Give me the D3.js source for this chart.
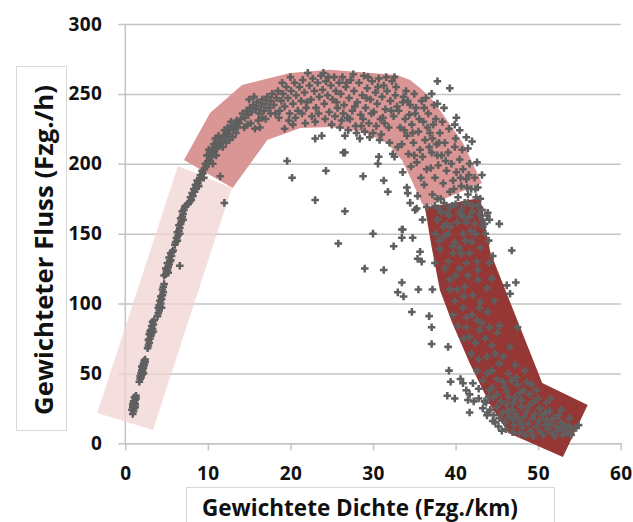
<!DOCTYPE html>
<html>
<head>
<meta charset="utf-8">
<script src="https://cdn.jsdelivr.net/npm/d3@7"></script>
<style>
  body { margin: 0; background: #fff; }
  svg { display: block; }
</style>
</head>
<body>
<svg id="chart" width="633" height="522"></svg>
<script>
// Achsen
const xTicks = [0, 10, 20, 30, 40, 50, 60];
const yTicks = [0, 50, 100, 150, 200, 250, 300];
const xTitle = "Gewichtete Dichte (Fzg./km)";
const yTitle = "Gewichteter Fluss (Fzg./h)";

// Hinterlegte Bereiche (Dichte, Fluss)
const bandFree = [[-3.4, 21.7], [3.35, 9.5], [12.9, 182.6], [6.38, 198.4]];
const bandArch = [[7.11, 202.7], [10.26, 236.3], [14.13, 256.4], [19.94, 265.0], [24.78, 267.2],
  [32.9, 263.6], [34.5, 260.0], [35.7, 254.2], [36.9, 247.8], [38.1, 238.5], [40.9, 214.9],
  [43.2, 186.3], [36.3, 169.1], [35.9, 171.9], [34.5, 190.5], [33.5, 202.7], [31.7, 214.9],
  [28.8, 222.7], [24.8, 226.3], [21.2, 225.6], [17.2, 217.0], [13.0, 182.7]];
const bandJam = [[36.3, 168.3], [42.96, 175.5], [44.2, 136.9], [50.5, 43.2], [56.0, 27.4],
  [53.0, -9.8], [46.4, 7.4], [44.2, 27.4], [41.7, 57.5], [39.6, 86.1], [38.1, 109.7], [37.1, 140.4]];

// Messpunkte (Dichte, Fluss)
const freeFlow = [
  [0.9,21],[1.0,23],[0.8,24],[1.1,25],[0.9,26],[1.0,27],[1.2,28],[1.1,29],[1.0,30],[1.2,31],[1.3,32],[1.1,33],[1.3,34],[1.2,26],[0.9,28],
  [1.7,44],[1.8,46],[1.9,47],[1.8,48],[2.0,49],[1.9,50],[2.1,51],[2.0,52],[2.1,53],[2.2,54],[2.1,55],[2.3,56],[2.2,57],[2.4,58],[2.3,59],[2.4,60],[2.0,55],[2.2,50],
  [2.7,68],[2.8,70],[2.9,72],[2.8,74],[3.0,75],[3.1,77],[2.9,78],[3.2,79],[3.1,81],[3.3,82],[3.2,84],[3.4,85],[3.3,87],[3.5,88],[3.0,80],[3.4,80],
  [3.9,91],[4.0,93],[4.1,95],[4.0,97],[4.2,98],[4.3,100],[4.2,102],[4.4,103],[4.3,105],[4.5,106],[4.6,108],[4.5,110],[4.1,99],[4.4,97],[4.6,112],[4.7,114],
  [4.7,120],[4.9,121],[5.0,123],[5.1,124],[4.9,125],[5.2,126],[5.3,128],[5.1,129],[5.4,130],[5.5,131],[5.3,133],[5.6,134],[5.5,136],[5.7,137],[5.2,122],[5.8,138],[6.6,127],
  [6.0,142],[6.1,144],[6.3,145],[6.2,147],[6.4,149],[6.3,151],[6.5,152],[6.6,154],[6.5,156],[6.7,157],[6.8,159],[6.7,161],[6.9,162],[7.0,164],[6.9,166],[7.1,167],[7.2,169],[7.3,170],[6.6,150],[7.0,160],
  [7.6,171],[7.8,173],[8.0,174],[7.9,176],[8.2,177],[8.1,179],[8.4,180],[8.3,182],[8.6,183],[8.5,185],[8.8,186],[8.7,188],[9.0,189],[9.2,190],[9.1,192],[9.4,193],[9.3,195],[9.6,196],[9.8,198],[9.7,200],[10.0,201],[8.9,184],[9.5,190],[12.0,172],[11.5,191]
];
const archPoints = [
  [10.2,203],[10.4,205],[10.3,208],[10.6,207],[10.5,210],[10.8,209],[10.9,212],[11.1,211],[10.7,214],[11.2,215],[11.0,206],[11.4,213],[11.6,216],[10.1,210],[11.8,212],
  [11.7,218],[11.9,220],[12.1,219],[12.3,222],[12.0,224],[12.5,221],[12.7,224],[12.4,226],[12.9,227],[13.1,225],[13.3,228],[12.8,230],[13.5,231],[12.2,215],[13.0,219],[13.6,226],[13.8,229],[14.0,232],
  [14.2,236],[14.5,233],[14.7,238],[14.9,235],[15.1,240],[15.3,237],[15.5,242],[15.2,229],[15.8,239],[16.0,244],[16.2,236],[16.4,241],[16.6,246],[16.8,238],[17.0,243],[17.2,248],[17.4,240],[17.6,245],[17.8,250],[14.8,228],[16.1,231],[17.0,232],[15.7,225],[16.3,226],
  [18.0,242],[18.3,247],[18.5,252],[18.7,238],[18.9,245],[19.1,250],[19.3,241],[19.5,255],[19.7,247],[19.9,236],[20.1,252],[20.3,243],[20.5,258],[20.7,249],[20.9,238],[21.1,255],[21.3,245],[21.5,260],[21.7,251],[21.9,240],
  [22.1,265],[22.3,256],[22.5,246],[22.7,261],[22.9,252],[23.1,240],[23.3,258],[23.5,248],[23.7,263],[23.9,253],[24.1,243],[24.3,259],[24.5,249],[24.7,237],[24.9,256],[25.1,246],[25.3,262],[25.5,252],[25.7,240],[25.9,258],
  [19.3,225],[20.3,228],[21.8,229],[23.0,230],[24.2,232],[25.4,234],[18.6,233],[19.8,231],
  [26.1,250],[26.3,262],[26.5,242],[26.7,255],[26.9,233],[27.1,247],[27.3,260],[27.5,238],[27.7,252],[27.9,227],[28.1,244],[28.3,258],[28.5,235],[28.7,249],[28.9,263],[29.1,240],[29.3,254],[29.5,229],[29.7,246],[29.9,259],
  [30.1,237],[30.3,251],[30.5,243],[30.7,261],[30.9,232],[31.1,248],[31.3,256],[31.5,239],[31.7,252],[31.9,226],[32.1,245],[32.3,259],[32.5,234],[32.7,249],[32.9,241],
  [26.0,226],[27.0,224],[28.0,222],[29.0,223],[30.0,222],[31.0,221],[26.4,236],[27.6,264],[28.8,232],[30.4,227],[31.6,262],[32.8,255],[26.8,258],[29.4,262],[31.2,233],
  [18.2,236],[19.0,258],[20.0,262],[20.6,233],[21.4,236],[22.0,244],[22.6,234],[23.4,236],[24.0,265],[24.6,262],[25.0,228],[25.6,244],[26.2,231],[27.2,232],[27.8,241],[28.6,227],
  [29.2,247],[29.8,236],[30.6,255],[31.4,229],[32.2,238],[32.6,262],[12.6,217],[13.4,222],[14.4,226],[15.0,246],[15.6,248],[16.6,233],[17.6,236],[11.3,220],[10.9,218],[9.9,206],[10.6,200]
];
const descentPoints = [
  [33.1,238],[33.3,226],[33.5,214],[33.7,248],[33.9,232],[34.1,220],[34.3,207],[34.5,242],[34.7,228],[34.9,215],[35.1,236],[35.3,201],[35.5,223],[35.7,210],[35.9,245],
  [36.1,230],[36.3,217],[36.5,196],[36.7,236],[36.9,222],[37.1,208],[37.3,228],[37.5,190],[37.7,214],[37.9,199],[38.1,222],[38.3,206],[38.5,186],[38.7,215],[38.9,195],
  [39.1,208],[39.3,180],[39.5,200],[39.7,188],[39.9,212],[40.1,194],[40.3,176],[40.5,203],[40.7,184],[40.9,196],[41.1,172],[41.3,189],[41.5,178],[41.7,200],[41.9,182],[42.1,170],[42.3,190],[42.5,176],
  [33.6,244],[34.4,235],[35.2,240],[36.0,205],[36.8,212],[37.6,232],[38.4,230],[39.2,225],[40.0,218],[40.8,210],[41.6,192],[38.0,215],[37.0,197],[39.6,170],[40.4,165],[41.0,162],
  [35.8,190],[34.6,198],[36.2,185],[37.2,178],[38.2,175],[39.0,165],[33.0,212],[32.0,215],[34.0,252],[35.0,250],[36.4,247],[37.4,242],
  [34.8,222],[35.6,232],[36.6,226],[37.8,206],[38.8,202],[39.8,182],[40.6,190],[41.4,183],[42.4,182],[36.2,240],[37.2,218],[38.6,240],[35.0,206],[33.8,224],[34.2,245]
];
const jamPoints = [
  [37.5,170],[38.0,168],[38.6,172],[39.3,169],[40.0,171],[40.8,168],[41.5,172],[42.0,166],[42.7,170],[43.2,160],[37.8,160],[38.5,155],[40.2,158],[43.6,150],[43.0,140],[37.6,150],[38.0,145],[44.0,145],[37.8,175],[43.0,175],[42.4,150],[41.2,145],[39.6,141],
  [38.3,165],[39.2,163],[40.7,163],[41.7,162],[42.9,164],[38.9,157],[41.3,158],[42.3,157],[43.3,155],[39.1,150],[40.9,150],[42.0,144],[39.9,144],[38.1,139],[39.7,136],[40.7,136],[41.7,136],
  [39.1,130],[41.3,129],[44.1,129],[38.7,125],[40.5,125],[42.7,124],[41.5,120],[39.3,117],[42.7,117],[44.4,118],[41.1,112],[39.3,110],[43.8,111],[42.1,106],[39.9,102],[44.7,102],
  [40.9,97],[42.9,97],[43.9,94],[41.3,90],[39.7,92],[42.6,88],[45.3,84],[44.1,83],[40.3,84],
  [41.3,83],[42.9,81],[45.0,79],[41.7,76],[44.4,70],[46.6,69],[41.9,64],[43.8,62],[45.3,57],[47.2,56],[42.6,52],[44.4,52],[48.4,52],[43.3,45],[45.7,44],[47.4,47],[49.2,42],[44.1,38],[46.2,37],[47.8,36],[51.0,29],[52.8,24],
  [44.2,24],[44.6,20],[45.0,26],[45.3,18],[45.7,22],[46.0,15],[46.2,28],[46.5,19],[46.8,24],[47.1,13],[47.3,21],[47.6,17],[47.9,26],[48.1,11],[48.3,19],[48.6,23],[48.8,14],[49.1,9],[49.3,18],[49.6,21],
  [49.8,12],[50.1,16],[50.3,8],[50.5,20],[50.8,13],[51.0,17],[51.2,10],[51.5,14],[51.7,7],[51.9,18],[52.2,12],[52.4,9],[52.7,15],[52.9,11],[53.2,13],[53.5,8],[53.8,12],[54.2,10],[54.6,11],[54.9,13],
  [45.5,30],[46.4,33],[47.0,29],[48.0,31],[48.9,27],[49.5,30],[50.2,25],[51.4,23],[45.2,12],[46.1,10],[46.9,8],[47.7,7],[48.5,6],[49.4,5],[50.6,6],[44.8,15],[43.9,22],[43.5,30],[44.0,33],[44.5,40],[45.0,35],[46.0,40],[47.5,42],[48.2,38],[49.0,35],[50.0,32],
  [38.6,148],[39.4,155],[40.4,140],[41.8,152],[42.6,130],[40.0,120],[41.0,105],[43.0,101],[40.2,110],[42.0,92],[43.2,86],[41.0,75],[42.4,72],[43.6,75],[44.8,64],[42.8,60],[45.8,62],[43.8,50],
  [46.4,50],[45.0,46],[46.8,45],[44.6,33],[47.2,33],[48.6,44],[49.8,38],[51.5,32],[52.5,20],[53.8,18],[50.9,22],[48.0,14],[47.0,17],[46.3,23],[45.6,9],[52.0,5],[53.0,6],[54.0,6]
];
const scatterPoints = [
  [19.6,202],[20.2,190],[23.0,218],[23.8,220],[23.0,174],[24.3,195],[26.6,208],[26.6,166],[28.8,191],[25.8,143],[29.0,125],[31.3,124],[30.7,205],[30.6,200],[31.3,188],[31.8,180],[30.0,150],
  [32.4,207],[32.6,205],[33.5,153],[33.5,147],[34.8,147],[32.5,141],[33.5,115],[33.0,108],[33.7,105],[35.5,110],[37.2,110],[35.7,137],[35.4,132],[35.9,130],[37.5,129],
  [34.1,183],[34.2,179],[34.5,172],[35.1,167],[35.3,168],[36.0,160],[33.6,194],[26.6,220],[28.4,218],[26.4,208],[29.6,219],[30.8,217],[35.4,177],[36.5,169],[33.6,153],
  [34.7,94],[36.8,91],[37.1,83],[37.1,71],[39.1,69],[39.2,52],[39.4,44],[40.6,46],[40.9,43],[42.1,43],[39.0,34],[39.9,32],[41.3,38],[41.7,35],[41.5,31],[42.8,39],[42.8,32],[42.2,30],[41.7,22],[43.3,25],[43.8,20],[43.7,29],[44.5,16],
  [37.8,259],[39.3,254],[37.1,250],[37.8,243],[40.1,233],[39.9,228],[40.5,224],[41.3,219],[42.0,216],[41.5,211],[42.6,201],[43.2,192],[42.7,183],[43.9,165],[45.3,157],[46.8,138],
  [47.3,115],[46.2,113],[46.6,107],[44.5,134],[47.5,83],[43.5,157],[44.1,160],[43.2,167],[43.8,163]
];

const width = 633, height = 522;
const margin = { top: 24, right: 12.3, bottom: 78.7, left: 125.3 };
const innerWidth  = width  - margin.left - margin.right;
const innerHeight = height - margin.top  - margin.bottom;

const svg = d3.select("#chart")
  .attr("viewBox", `0 0 ${width} ${height}`);

svg.append("rect").attr("width", width).attr("height", height).attr("fill", "#fff");

const g = svg.append("g")
  .attr("transform", `translate(${margin.left},${margin.top})`);

const x = d3.scaleLinear().domain([0, 60]).range([0, innerWidth]);
const y = d3.scaleLinear().domain([0, 300]).range([innerHeight, 0]);

const gridColor = "#c4c4c4";
const tickFont = "'Open Sans', sans-serif";

// Gitterlinien + Y-Beschriftung
const yAxis = g.append("g")
  .attr("transform", "translate(-7,0)")
  .call(d3.axisLeft(y).tickValues(yTicks).tickSize(-(innerWidth + 7)).tickPadding(16));
yAxis.select(".domain").remove();
yAxis.selectAll(".tick line").attr("stroke", gridColor).attr("stroke-width", 1.5);
yAxis.selectAll(".tick text")
  .attr("font-family", tickFont).attr("font-weight", 700)
  .attr("font-size", "19px").attr("letter-spacing", "0.4px").attr("fill", "#111");

// X-Achse
const xAxis = g.append("g")
  .attr("transform", `translate(0,${innerHeight})`)
  .call(d3.axisBottom(x).tickValues(xTicks).tickSize(7).tickSizeOuter(0).tickPadding(16));
xAxis.select(".domain").attr("stroke", gridColor).attr("stroke-width", 1.5);
xAxis.selectAll(".tick line").attr("stroke", gridColor).attr("stroke-width", 1.5);
xAxis.selectAll(".tick text")
  .attr("font-family", tickFont).attr("font-weight", 700)
  .attr("font-size", "19px").attr("letter-spacing", "0.4px").attr("fill", "#111");

// senkrechte Achse
g.append("line")
  .attr("x1", x(0)).attr("x2", x(0))
  .attr("y1", y(300)).attr("y2", y(0))
  .attr("stroke", gridColor).attr("stroke-width", 1.5);

// Bereiche
const area = d3.line().x(d => x(d[0])).y(d => y(d[1])).curve(d3.curveLinearClosed);
g.append("path").attr("d", area(bandFree)).attr("fill", "#f0d4d3").attr("fill-opacity", 0.75);
g.append("path").attr("d", area(bandArch)).attr("fill", "#d99694");
g.append("path").attr("d", area(bandJam)).attr("fill", "#953735");

// Punkte
const allPoints = [].concat(freeFlow, archPoints, descentPoints, jamPoints, scatterPoints);
const cross = d3.symbol(d3.symbolCross, 32);
g.append("g")
  .selectAll("path")
  .data(allPoints)
  .join("path")
  .attr("transform", d => `translate(${x(d[0])},${y(d[1])})`)
  .attr("d", cross)
  .attr("fill", "#5f5f5f");

// Achsentitel mit Kasten
svg.append("rect")
  .attr("x", 16.5).attr("y", 66.5).attr("width", 50).attr("height", 364)
  .attr("fill", "#fff").attr("stroke", "#d9d9d9");
svg.append("text")
  .attr("transform", "translate(53,250) rotate(-90)")
  .attr("text-anchor", "middle")
  .attr("font-family", tickFont).attr("font-weight", 700).attr("font-size", "25px")
  .attr("textLength", 330).attr("lengthAdjust", "spacingAndGlyphs")
  .attr("fill", "#111")
  .text(yTitle);

svg.append("rect")
  .attr("x", 186.5).attr("y", 487.5).attr("width", 368).attr("height", 50)
  .attr("fill", "#fff").attr("stroke", "#d9d9d9");
svg.append("text")
  .attr("x", 360).attr("y", 516)
  .attr("text-anchor", "middle")
  .attr("font-family", tickFont).attr("font-weight", 700).attr("font-size", "23px")
  .attr("textLength", 316).attr("lengthAdjust", "spacingAndGlyphs")
  .attr("fill", "#111")
  .text(xTitle);
</script>
</body>
</html>
